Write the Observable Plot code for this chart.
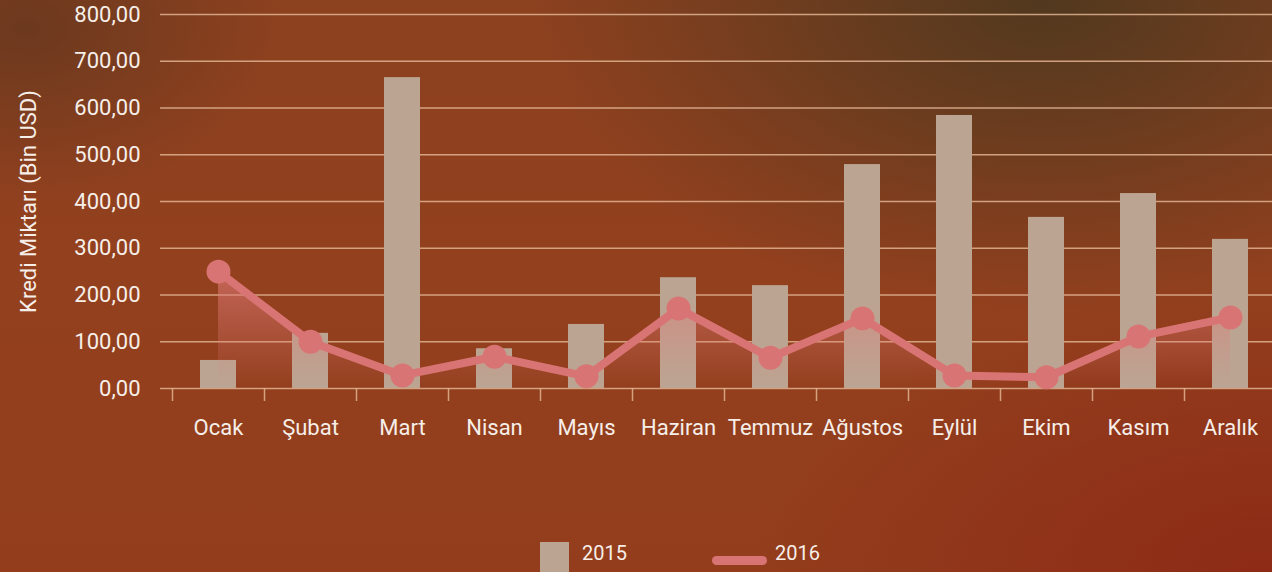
<!DOCTYPE html>
<html><head><meta charset="utf-8">
<script src="https://cdn.jsdelivr.net/npm/d3@7"></script>
<script src="https://cdn.jsdelivr.net/npm/@observablehq/plot@0.6"></script>
<style>
html,body{margin:0;padding:0;width:1272px;height:572px;overflow:hidden;}
body{position:relative;font-family:Roboto,"Noto Sans",sans-serif;color:#f6eee8;
background:
 radial-gradient(ellipse 40% 55% at 82% 0%, rgba(78,56,30,0.95), rgba(78,56,30,0) 100%),
 radial-gradient(ellipse 20% 30% at 2% 5%, rgba(100,55,30,0.8), rgba(100,55,30,0) 100%),
 radial-gradient(ellipse 40% 50% at 100% 100%, rgba(140,40,22,0.9), rgba(140,40,22,0) 100%),
 linear-gradient(180deg,#8c411f 0%,#93401e 50%,#933d1c 100%);}
#chart{position:absolute;left:0;top:0;}
.leg{position:absolute;font-size:20px;line-height:20px;}
</style></head>
<body>
<div id="chart"></div>
<div class="leg" style="left:540px;top:542px;width:29px;height:30px;background:#bba592;"></div>
<div class="leg" style="left:582px;top:543px;">2015</div>
<div class="leg" style="left:712px;top:556px;width:55px;height:9px;border-radius:5px;background:#d97474;"></div>
<div class="leg" style="left:775px;top:543px;">2016</div>
<script>
const months = ["Ocak","Şubat","Mart","Nisan","Mayıs","Haziran","Temmuz","Ağustos","Eylül","Ekim","Kasım","Aralık"];
const values2015 = [60,118,665,85,137,237,220,479,584,366,417,319];
const values2016 = [250,100,28,68,26,171,66,150,28,24,111,152];
const yTicks = [0,100,200,300,400,500,600,700,800];

const data = months.map((m,i)=>({month:m, v2015:values2015[i], v2016:values2016[i]}));
const fmt = d => d.toFixed(2).replace(".", ",");

const plot = Plot.plot({
  width:1272, height:530,
  marginLeft:172, marginRight:-4, marginTop:14, marginBottom:142,
  style:{background:"transparent", color:"#f6eee8", fontFamily:"Roboto, 'Noto Sans', sans-serif", fontSize:"22px", overflow:"visible"},
  x:{domain:months, padding:0, axis:null},
  y:{domain:[0,800]},
  marks:[
    () => {
      const ns="http://www.w3.org/2000/svg";
      const defs=document.createElementNS(ns,"defs");
      defs.innerHTML='<linearGradient id="g2016" x1="0" y1="0" x2="0" y2="1"><stop offset="0" stop-color="#e07a78" stop-opacity="0.65"/><stop offset="1" stop-color="#e07a78" stop-opacity="0"/></linearGradient>';
      return defs;
    },
    Plot.ruleY(yTicks, {y:d=>d, stroke:"#e0b492", strokeWidth:1.5, strokeOpacity:0.85, insetLeft:-12}),
    Plot.ruleX(months, {x:d=>d, dx:-46, y1:0, y2:0, insetBottom:-13, stroke:"#e0b492", strokeWidth:1.5, strokeOpacity:0.85}),
    Plot.axisY(yTicks, {tickSize:0, tickPadding:32, tickFormat:fmt, fontSize:22, label:"Kredi Miktarı (Bin USD)", labelAnchor:"center", labelArrow:"none", labelOffset:152}),
    Plot.axisX(months, {tickSize:0, tickPadding:31, fontSize:22, label:null}),
    Plot.barY(data, {x:"month", y:"v2015", fill:"#bba592", insetLeft:28, insetRight:28}),
    Plot.areaY(data, {x:"month", y:"v2016", fill:"url(#g2016)"}),
    Plot.lineY(data, {x:"month", y:"v2016", stroke:"#d97474", strokeWidth:8, strokeLinejoin:"round"}),
    Plot.dot(data, {x:"month", y:"v2016", r:12, fill:"#d97474"})
  ]
});
document.getElementById("chart").appendChild(plot);
</script>
</body></html>
